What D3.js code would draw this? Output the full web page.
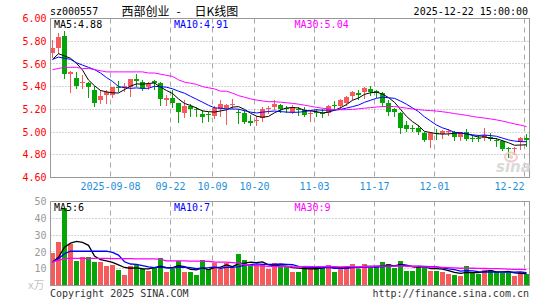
<!DOCTYPE html>
<html><head><meta charset="utf-8">
<script src="https://cdn.jsdelivr.net/npm/d3@7"></script>
<style>body{margin:0;background:#fff}svg{display:block}</style>
</head><body><svg id="c" width="545" height="300"></svg>
<script>
const dates = ["2025-08-25","2025-08-26","2025-08-27","2025-08-28","2025-08-29",
"2025-09-01","2025-09-02","2025-09-03","2025-09-04","2025-09-05","2025-09-08","2025-09-09","2025-09-10","2025-09-11","2025-09-12",
"2025-09-15","2025-09-16","2025-09-17","2025-09-18","2025-09-19","2025-09-22","2025-09-23","2025-09-24","2025-09-25","2025-09-26",
"2025-09-29","2025-09-30","2025-10-09","2025-10-10","2025-10-13","2025-10-14","2025-10-15","2025-10-16","2025-10-17",
"2025-10-20","2025-10-21","2025-10-22","2025-10-23","2025-10-24","2025-10-27","2025-10-28","2025-10-29","2025-10-30","2025-10-31",
"2025-11-03","2025-11-04","2025-11-05","2025-11-06","2025-11-07","2025-11-10","2025-11-11","2025-11-12","2025-11-13","2025-11-14",
"2025-11-17","2025-11-18","2025-11-19","2025-11-20","2025-11-21","2025-11-24","2025-11-25","2025-11-26","2025-11-27","2025-11-28",
"2025-12-01","2025-12-02","2025-12-03","2025-12-04","2025-12-05","2025-12-08","2025-12-09","2025-12-10","2025-12-11","2025-12-12",
"2025-12-15","2025-12-16","2025-12-17","2025-12-18","2025-12-19","2025-12-22"];

const open = [5.70,5.74,5.85,5.51,5.48,5.43,5.43,5.37,5.28,5.33,
5.33,5.40,5.39,5.40,5.47,5.44,5.40,5.45,5.43,5.28,
5.30,5.26,5.17,5.23,5.20,5.16,5.16,5.14,5.20,5.21,
5.24,5.18,5.17,5.10,5.10,5.12,5.20,5.22,5.24,5.21,
5.18,5.20,5.19,5.16,5.18,5.17,5.17,5.24,5.23,5.26,
5.32,5.34,5.35,5.38,5.36,5.34,5.26,5.20,5.17,5.06,
5.04,5.04,4.99,4.93,4.99,4.98,5.00,5.00,4.96,5.00,
4.95,4.95,4.95,4.96,4.93,4.92,4.86,4.85,4.91,4.95];
const high = [5.81,5.87,5.89,5.54,5.53,5.50,5.44,5.41,5.37,5.37,
5.40,5.45,5.43,5.47,5.51,5.46,5.44,5.46,5.44,5.33,
5.37,5.26,5.28,5.25,5.22,5.19,5.18,5.23,5.28,5.25,
5.29,5.20,5.19,5.15,5.14,5.22,5.23,5.28,5.25,5.23,
5.24,5.22,5.22,5.19,5.20,5.20,5.24,5.27,5.29,5.32,
5.36,5.37,5.40,5.41,5.37,5.35,5.28,5.21,5.18,5.10,
5.06,5.06,5.00,5.00,5.03,5.02,5.03,5.01,5.00,5.03,
4.97,4.97,5.04,4.99,4.95,4.93,4.87,4.87,4.96,4.98];
const low = [5.66,5.70,5.48,5.35,5.39,5.39,5.31,5.23,5.26,5.26,
5.31,5.36,5.36,5.32,5.41,5.37,5.38,5.38,5.24,5.24,
5.22,5.09,5.13,5.14,5.14,5.09,5.10,5.12,5.14,5.07,
5.21,5.08,5.08,5.06,5.06,5.10,5.17,5.20,5.18,5.18,
5.17,5.15,5.14,5.10,5.14,5.13,5.15,5.20,5.21,5.24,
5.29,5.29,5.30,5.33,5.31,5.23,5.15,5.14,4.99,5.01,
5.01,4.98,4.92,4.87,4.94,4.95,4.97,4.93,4.93,4.93,
4.92,4.92,4.93,4.93,4.88,4.84,4.78,4.81,4.85,4.88];
const close = [5.74,5.84,5.51,5.53,5.41,5.44,5.40,5.26,5.32,5.35,
5.40,5.39,5.41,5.47,5.45,5.39,5.42,5.43,5.29,5.30,
5.26,5.18,5.23,5.20,5.19,5.13,5.15,5.21,5.25,5.24,
5.25,5.17,5.09,5.08,5.11,5.20,5.21,5.25,5.20,5.20,
5.22,5.19,5.15,5.17,5.17,5.16,5.23,5.23,5.28,5.31,
5.35,5.33,5.39,5.35,5.34,5.26,5.18,5.18,5.04,5.03,
5.03,5.00,4.93,4.99,4.98,5.01,5.01,4.96,5.00,4.94,
4.94,4.94,4.97,4.94,4.92,4.85,4.85,4.86,4.95,4.93];
const volume = [19.6,26.1,46.1,24.9,14.7,16.7,17.1,14.1,14.1,11.4,
12.2,9.4,6.5,11.8,12.4,9.8,8.8,10.4,16.1,8.2,
9.8,14.3,7.8,8.2,6.5,15.3,9.8,13.1,9.8,13.1,
10.2,18.6,15.1,12.4,11.8,12.2,9.8,13.3,11.4,10.8,
8.2,8.2,11.8,10.8,10.8,10.2,12.4,8.2,10.8,10.8,
12.9,9.8,12.9,10.2,11.4,13.7,12.9,10.2,14.7,8.8,
8.8,11.8,11.8,8.8,8.8,7.8,6.9,6.5,5.9,11.8,
7.5,6.7,9.4,9.4,7.8,7.5,7.5,5.5,7.8,6.9];

// moving-average values at the start of the window (earlier history not shown)
const ma5Head = [5.64,5.69,5.67,5.65];
const ma10Head = [5.64,5.66,5.65,5.64,5.61,5.59,5.57,5.55,5.52];
const ma30Head = [5.55,5.56,5.57,5.57,5.57,5.56,5.56,5.55,5.54,5.53,5.53,5.53,5.53,5.53,5.53,5.53,5.52,5.52,5.51,5.50,5.49,5.46,5.44,5.43,5.42,5.40,5.39,5.38,5.36];
const vma5Head = [14.0,16.8,22.8,25.2];
const vma10Head = [14.0,15.9,18.9,20.4,20.4,20.4,20.4,20.4,20.4];
const vma30Head = [14.0,15.0,16.0,16.2,16.2,16.2,16.2,16.2,16.2,16.2,16.0,16.0,16.0,16.0,15.9,15.9,15.8,15.8,15.6,14.7,14.6,14.6,14.6,14.5,14.5,14.4,14.4,14.0,13.9];

const priceTicks = [4.6,4.8,5.0,5.2,5.4,5.6,5.8,6.0];
const volTicks = [10,20,30,40,50];
const tickDates = ["2025-09-08","2025-09-22","2025-10-09","2025-10-20","2025-11-03","2025-11-17","2025-12-01","2025-12-22"];
const tickLabels = ["2025-09-08","09-22","10-09","10-20","11-03","11-17","12-01","12-22"];

const header = {code:"sz000557", name:"西部创业", dash:"-", kind:"日K线图", time:"2025-12-22 15:00:00"};
const priceLegend = ["MA5:4.88","MA10:4.91","MA30:5.04"];
const volLegend = ["MA5:6","MA10:7","MA30:9"];

function ma(arr, n, head){
  return arr.map((v,i)=>{
    if(i < n-1) return head[i];
    let s=0; for(let k=i-n+1;k<=i;k++) s+=arr[k];
    return s/n;
  });
}

const RED="#f65a5a", GREEN="#04a504", GRID="#a8a8a8", FRAME="#999";
const MONO="'DejaVu Sans Mono', monospace";
const svg = d3.select("#c");
const L=50.5, R=529.5, T=18.5, B=177.5, VT=201.5, VB=285.5;

const x = d3.scaleBand().domain(dates).range([49.5,529.5]).paddingInner(1/6).paddingOuter(1/12);
const y = d3.scaleLinear().domain([4.6,6.0]).range([B,T]);
const vy = d3.scaleLinear().domain([0,50]).range([VB,VT]);
const cx = d => x(d)+2.5;
const px = v => Math.round(v-0.5)+0.5;

const defs = svg.append("defs");
defs.append("clipPath").attr("id","cm").append("rect").attr("x",L).attr("y",T).attr("width",R-L).attr("height",B-T);
defs.append("clipPath").attr("id","cv").append("rect").attr("x",L).attr("y",VT).attr("width",R-L).attr("height",VB-VT);

// grids
const g = svg.append("g");
g.selectAll(".hg").data(priceTicks.slice(1,-1)).join("line")
  .attr("x1",L).attr("x2",R).attr("y1",d=>px(y(d))).attr("y2",d=>px(y(d)))
  .attr("stroke",GRID).attr("stroke-dasharray","1,2");
g.selectAll(".vhg").data(volTicks.slice(0,-1)).join("line")
  .attr("x1",L).attr("x2",R).attr("y1",d=>px(vy(d))).attr("y2",d=>px(vy(d)))
  .attr("stroke",GRID).attr("stroke-dasharray","1,2");
tickDates.forEach(d=>{
  const xx = x(d)+0.5;
  [[T,B],[VT,VB]].forEach(([a,b])=>{
    g.append("line").attr("x1",xx).attr("x2",xx).attr("y1",a).attr("y2",b)
      .attr("stroke",GRID).attr("stroke-dasharray","5,4");
  });
});

// candles
const cg = svg.append("g").attr("clip-path","url(#cm)");
dates.forEach((d,i)=>{
  const up = close[i] >= open[i];
  const col = up ? RED : GREEN;
  const xc = Math.floor(cx(d))+0.5;
  cg.append("line").attr("x1",xc).attr("x2",xc)
    .attr("y1",Math.round(y(high[i]))).attr("y2",Math.round(y(low[i]))+1)
    .attr("stroke",col);
  const top = Math.round(y(Math.max(open[i],close[i])));
  const bot = Math.round(y(Math.min(open[i],close[i])));
  cg.append("rect").attr("x",x(d)).attr("width",x.bandwidth())
    .attr("y",top).attr("height",Math.max(1,bot-top)).attr("fill",col);
});

// volume bars
const vg = svg.append("g").attr("clip-path","url(#cv)");
dates.forEach((d,i)=>{
  const up = close[i] >= open[i];
  const top = Math.round(vy(volume[i]));
  vg.append("rect").attr("x",x(d)).attr("width",x.bandwidth())
    .attr("y",top).attr("height",Math.round(VB)-top).attr("fill",up?RED:GREEN);
});

// moving averages
const lineP = d3.line().x((v,i)=>cx(dates[i])).y(v=>y(v));
const lineV = d3.line().x((v,i)=>cx(dates[i])).y(v=>vy(v));
[[ma(close,5,ma5Head),"#000"],[ma(close,10,ma10Head),"#0000ff"],[ma(close,30,ma30Head),"#ff00ff"]].forEach(([s,c])=>{
  cg.append("path").attr("d",lineP(s)).attr("fill","none").attr("stroke",c).attr("stroke-width",1);
});
[[ma(volume,5,vma5Head),"#000"],[ma(volume,10,vma10Head),"#0000ff"],[ma(volume,30,vma30Head),"#ff00ff"]].forEach(([s,c])=>{
  vg.append("path").attr("d",lineV(s)).attr("fill","none").attr("stroke",c).attr("stroke-width",1.3);
});

// frames
svg.append("rect").attr("x",L).attr("y",T).attr("width",R-L).attr("height",B-T).attr("fill","none").attr("stroke",FRAME);
svg.append("rect").attr("x",L).attr("y",VT).attr("width",R-L).attr("height",VB-VT).attr("fill","none").attr("stroke",FRAME);

// watermark
const wm = svg.append("g").attr("opacity",0.9);
wm.append("ellipse").attr("cx",511).attr("cy",157).attr("rx",6).attr("ry",4.5).attr("fill","none").attr("stroke","#f4c6c6").attr("stroke-width",2);
wm.append("circle").attr("cx",511).attr("cy",157).attr("r",2).attr("fill","#f4c6c6");
wm.append("text").attr("x",496).attr("y",172).attr("font-family","'DejaVu Sans', sans-serif").attr("font-style","italic").attr("font-weight","bold")
  .attr("font-size",15).attr("fill","#d6d6d6").text("sina");

// axis labels
const t = svg.append("g").attr("font-family",MONO).attr("font-size",10);
t.selectAll(".pl").data(priceTicks).join("text")
  .attr("x",46.5).attr("y",d=>y(d)+3.6).attr("text-anchor","end").attr("fill","#ff0000")
  .text(d=>d.toFixed(2));
t.selectAll(".vl").data(volTicks).join("text")
  .attr("x",46.5).attr("y",d=>vy(d)+3.6).attr("text-anchor","end").attr("fill","#999")
  .text(d=>d);
tickDates.forEach((d,k)=>{
  const xx = x(d)+0.5;
  const atEnd = xx + 16 > R;
  t.append("text").attr("x",atEnd?xx:xx).attr("y",189.5)
    .attr("text-anchor",atEnd?"end":"middle").attr("fill","#1e8fd8").text(tickLabels[k]);
});

// legends
const lx = [54,174,294.5], lc = ["#000","#0000ff","#ff00ff"];
priceLegend.forEach((s,k)=>t.append("text").attr("x",lx[k]).attr("y",28).attr("fill",lc[k]).text(s));
volLegend.forEach((s,k)=>t.append("text").attr("x",lx[k]).attr("y",210.5).attr("fill",lc[k]).text(s));

// header
t.append("text").attr("x",50).attr("y",15).attr("fill","#000").text(header.code);
t.append("text").attr("x",528).attr("y",15).attr("text-anchor","end").attr("fill","#000").text(header.time);
const ht = svg.append("text").attr("y",15.5).attr("font-family","'Noto Sans CJK SC', sans-serif").attr("font-size",12).attr("fill","#000");
ht.append("tspan").attr("x",121.5).text(header.name);
ht.append("tspan").attr("x",176.5).text(header.dash);
ht.append("tspan").attr("x",194.5).text(header.kind);

// unit and footer
svg.append("text").attr("x",28).attr("y",289).attr("font-family","'Noto Sans CJK SC', sans-serif").attr("font-size",11).attr("fill","#c4c4c4").text("x万");
t.append("text").attr("x",50).attr("y",296.5).attr("fill","#333").text("Copyright 2025 SINA.COM");
t.append("text").attr("x",529).attr("y",296.5).attr("text-anchor","end").attr("fill","#333").text("http://finance.sina.com.cn");
</script></body></html>
